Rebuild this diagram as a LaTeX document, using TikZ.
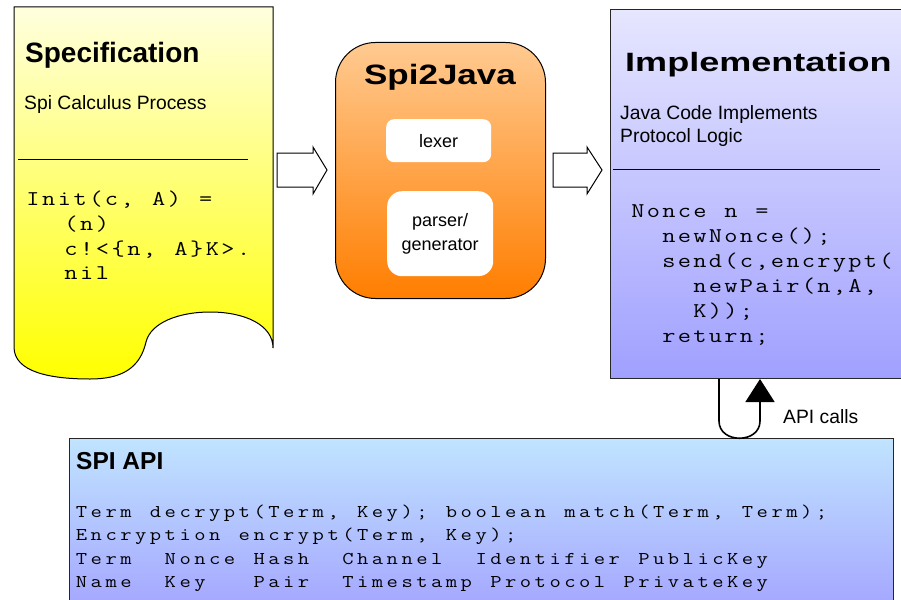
\documentclass[tikz,border=0pt]{standalone}
\usepackage{fontspec}
\usepackage{graphicx}
\setmainfont{Liberation Sans}
\newfontfamily\wideA{Liberation Sans}[FakeStretch=1.36]
\newfontfamily\wideB{Liberation Sans}[FakeStretch=1.25]
\usetikzlibrary{arrows.meta,calc}

\definecolor{specTop}{RGB}{255,255,222}
\definecolor{specBot}{RGB}{255,255,0}
\definecolor{toolTop}{RGB}{255,202,145}
\definecolor{toolBot}{RGB}{255,126,0}
\definecolor{implTop}{RGB}{230,230,255}
\definecolor{implBot}{RGB}{160,160,255}
\definecolor{apiTop}{RGB}{192,228,255}
\definecolor{apiBot}{RGB}{164,164,255}

% fixed-pitch code line: every character sits in a cell of width #1,
% widened a little to a courier-like shape; a "|" is one extra blank cell
\ExplSyntaxOn
\NewDocumentCommand \codeline { m m }
  {
    \str_map_inline:nn {#2}
      {
        \str_if_eq:nnTF {##1} {|}
          { \hbox_to_wd:nn {#1} { } }
          { \hbox_to_wd:nn {#1} { \hfil \scalebox{1.22}[1]{##1} \hfil } }
      }
  }
\ExplSyntaxOff

\begin{document}
\begin{tikzpicture}[x=1pt,y=-1pt,
  lbl/.style={inner sep=0pt, anchor=base west, text=black},
  bodytext/.style={lbl, font=\fontsize{19.3}{22}\selectfont},
  codeS/.style={lbl, font=\ttfamily\fontsize{21}{24}\selectfont},
  codeA/.style={lbl, font=\ttfamily\fontsize{18}{22}\selectfont},
  rule/.style={line width=1pt, black},
  panel/.style={draw=black!85, line width=1pt, inner sep=0pt},
  inner/.style={fill=white, inner sep=0pt, align=center,
                font=\fontsize{18}{24}\selectfont},
  blockarrow/.style={draw=black, line width=1pt, fill=white, line join=miter},
  apiline/.style={draw=black, line width=1.6pt}
]
\clip (0,0) rectangle (901,599);
\fill[white] (0,0) rectangle (901,599);

% ---------- Specification sheet ----------
\path[draw=black, line width=1pt, top color=specTop, bottom color=specBot]
  (14,7) coordinate (specNW) -- (273,7) coordinate (specNE)
  -- (273,348) coordinate (specSE)
  .. controls (273,325) and (245,312) .. (210,312)
  .. controls (180,312) and (151,322) .. (146,342)
  .. controls (140,368) and (122,379) .. (90,379)
  .. controls (50,379) and (14,372) .. (14,347) -- cycle;
\node[lbl, font=\bfseries\fontsize{28}{30}\selectfont] (specT) at (25,63) {Specification};
\node[bodytext] (specS) at (24,110) {Spi Calculus Process};
\draw[rule] (18,159) coordinate (specRa) -- (248,159) coordinate (specRb);
\node[codeS] (spec1) at (25,205) {\codeline{15.7pt}{Init(c, A) =}};
\node[codeS] (spec2) at (63,230) {\codeline{15.7pt}{(n)}};
\node[codeS] (spec3) at (63,255) {\codeline{15.7pt}{c!<{n, A}K>.}};
\node[codeS] (spec4) at (63,279) {\codeline{15.7pt}{nil}};

% ---------- Spi2Java tool ----------
\node[panel, draw=black, top color=toolTop, bottom color=toolBot,
      rounded corners=40pt, minimum width=210pt, minimum height=256pt,
      anchor=north west] (tool) at (335,42) {};
\node[inner sep=0pt, anchor=base, font=\wideB\bfseries\fontsize{28}{30}\selectfont]
  (toolT) at (440,85) {Spi2Java};
\node[inner, rounded corners=8pt, minimum width=105pt, minimum height=43pt,
      anchor=north west] (lexer) at (386,119) {lexer};
\node[inner, rounded corners=15pt, minimum width=106pt, minimum height=85pt,
      anchor=north west] (parser) at (387,191) {parser/\\generator};

% ---------- Implementation ----------
\node[panel, top color=implTop, bottom color=implBot,
      minimum width=300pt, minimum height=369pt, anchor=north west]
  (impl) at (610,9) {};
\node[lbl, font=\wideA\bfseries\fontsize{26.5}{30}\selectfont] (implT) at (625,72) {Implementation};
\node[bodytext] (implS1) at (620,120) {Java Code Implements};
\node[bodytext] (implS2) at (620,142) {Protocol Logic};
\draw[rule] (613,169) coordinate (implRa) -- (880,169) coordinate (implRb);
\node[codeS] (impl1) at (630,217) {\codeline{15.5pt}{Nonce n =}};
\node[codeS] (impl2) at (661,242) {\codeline{15.5pt}{newNonce();}};
\node[codeS] (impl3) at (661,267) {\codeline{15.5pt}{send(c,encrypt(}};
\node[codeS] (impl4) at (692,292) {\codeline{15.5pt}{newPair(n,A,}};
\node[codeS] (impl5) at (692,317) {\codeline{15.5pt}{K));}};
\node[codeS] (impl6) at (661,342) {\codeline{15.5pt}{return;}};

% ---------- block arrows between the stages ----------
\draw[blockarrow] (277,153) coordinate (arrA) -- (313,153) -- (313,147) -- (327,170)
  -- (313,194) -- (313,187) -- (277,187) -- cycle;
\draw[blockarrow] (553,153) coordinate (arrB) -- (587,153) -- (587,147) -- (602,170)
  -- (587,194) -- (587,187) -- (553,187) -- cycle;

% ---------- SPI API ----------
\node[panel, top color=apiTop, bottom color=apiBot,
      minimum width=824pt, minimum height=175pt, anchor=north west]
  (api) at (69,438) {};
\node[lbl, font=\bfseries\fontsize{24.5}{28}\selectfont] (apiT) at (76,469) {SPI API};
\node[codeA] (api1) at (74,517) {\codeline{14.8pt}{Term decrypt(Term, Key); boolean match(Term, Term);}};
\node[codeA] (api2) at (74,540) {\codeline{14.8pt}{Encryption encrypt(Term, Key);}};
\node[codeA] (api3) at (74,564) {\codeline{14.8pt}{Term||Nonce|Hash||Channel||Identifier|PublicKey}};
\node[codeA] (api4) at (74,587) {\codeline{14.8pt}{Name||Key|||Pair||Timestamp|Protocol|PrivateKey}};

% ---------- API calls loop ----------
\path (impl.south west) ++(109,0) coordinate (loopA);
\path (impl.south west) ++(150,0) coordinate (loopB);
\draw[apiline, -{Triangle[width=29pt,length=23pt]}]
  (loopA) -- ($(loopA)+(0,42)$)
  .. controls ($(loopA)+(0,65)$) and ($(loopB)+(0,65)$) .. ($(loopB)+(0,42)$)
  -- (loopB);
\node[bodytext] (apiL) at (783,423) {API calls};
\end{tikzpicture}
\end{document}
